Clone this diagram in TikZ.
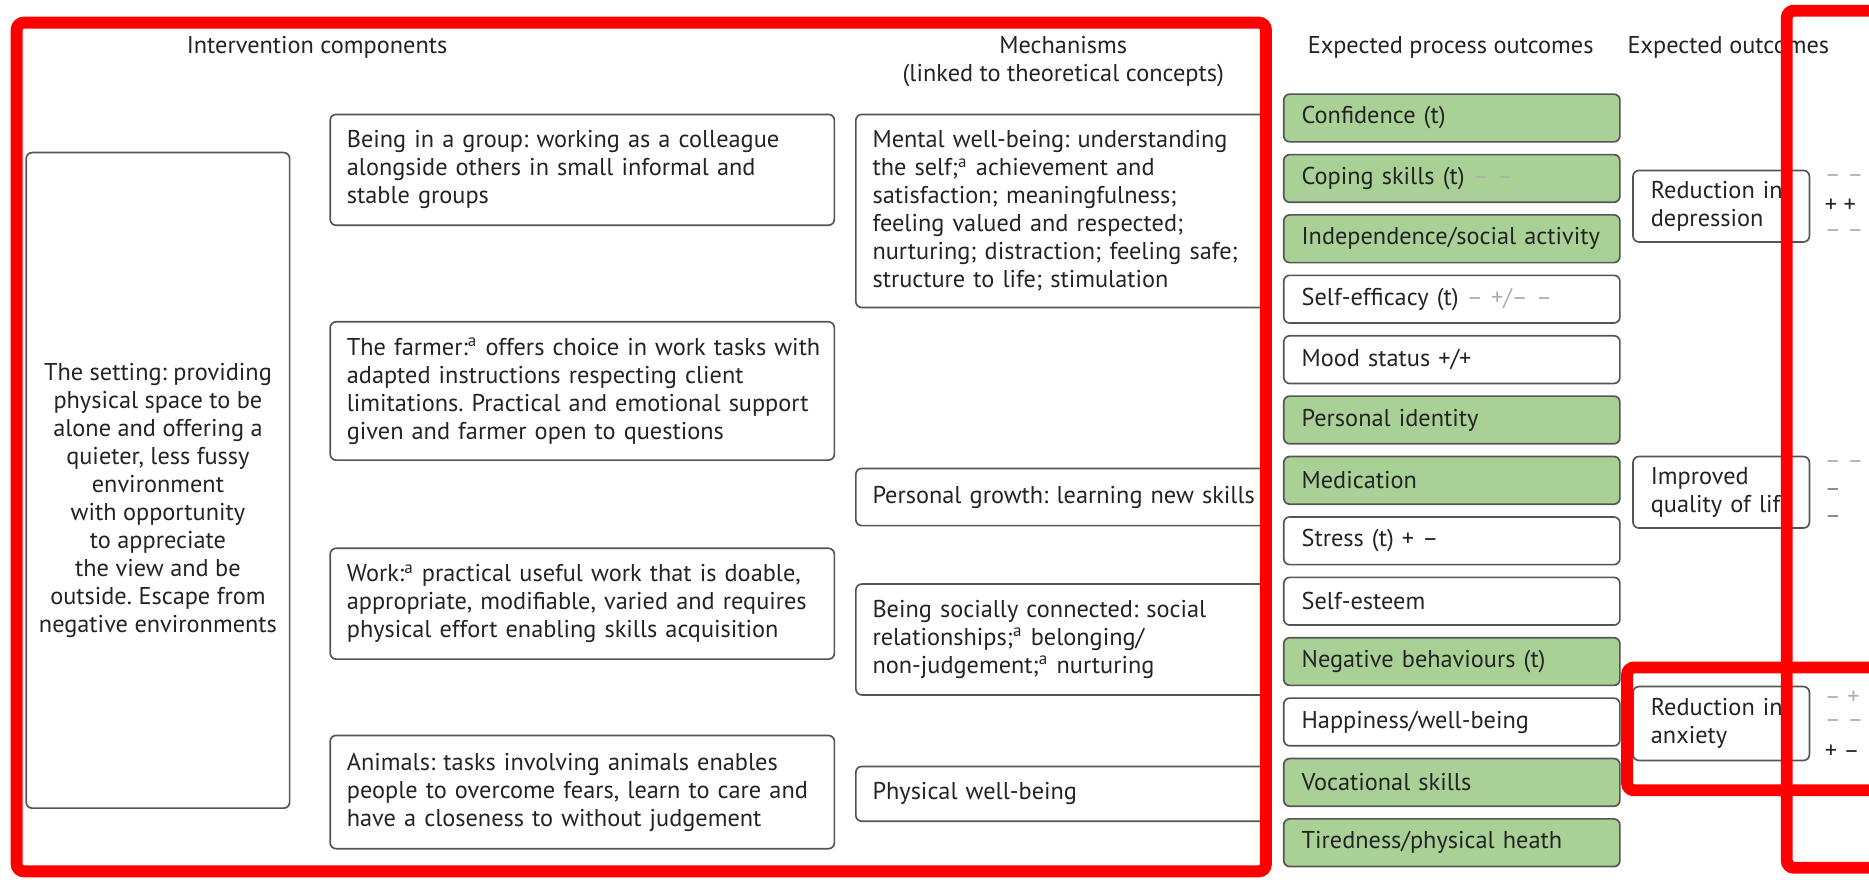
\documentclass[tikz,border=0pt]{standalone}
\usepackage{fontspec}
\setmainfont{PT Sans}
\frenchspacing
\definecolor{boxgreen}{RGB}{169,209,150}
\definecolor{boxline}{RGB}{85,85,85}
\definecolor{txt}{RGB}{35,35,35}
\definecolor{signgray}{RGB}{175,175,175}
\definecolor{signmid}{RGB}{130,130,130}
\definecolor{redframe}{RGB}{255,0,0}
\begin{document}
\begin{tikzpicture}[x=0.5pt,y=-0.5pt,
  every node/.style={font=\fontsize{10.2}{11.75}\selectfont, text=txt, outer sep=0pt},
  card/.style={draw=boxline, line width=0.7pt, rounded corners=2.5pt, anchor=west, align=left, inner ysep=1pt},
  icard/.style={card, inner xsep=7pt, text width=197.5pt},
  mcard/.style={card, inner xsep=7pt, text width=158pt},
  pcard/.style={card, inner xsep=7.5pt, text width=126pt, minimum height=20pt},
  pgreen/.style={pcard, fill=boxgreen},
  ocard/.style={card, inner xsep=7.5pt, text width=59pt},
  heading/.style={anchor=center, align=center},
  sign/.style={anchor=west, inner sep=0pt},
  redline/.style={draw=redframe, line width=5pt, rounded corners=3pt}
]
\useasboundingbox (0,0) rectangle (1568,738);

% headings
\node[heading] (h1) at (266,40) {Intervention components};
\node[heading] (h2) at (892,52) {Mechanisms\\(linked to theoretical concepts)};
\node[heading] (h3) at (1217,40) {Expected process outcomes};
\node[heading] (h4) at (1450,40) {Expected outcomes};

% setting box
\node[draw=boxline, line width=0.7pt, rounded corners=2.5pt, minimum width=110.5pt, minimum height=275pt, inner sep=0pt] (setting) at (132.5,403) {};
\node[align=center, inner sep=0pt] (settingtext) at (132.5,420) {The setting: providing\\physical space to be\\alone and offering a\\quieter, less fussy\\environment\\with opportunity\\to appreciate\\the view and be\\outside. Escape from\\negative environments};

% intervention components
\node[icard, minimum height=46.5pt] (group) at (277,142.5) {\mbox{Being in a group: working as a colleague}\\\mbox{alongside others in small informal and}\\stable groups};
\node[icard, minimum height=58pt] (farmer) at (277,328) {\mbox{The farmer:\textsuperscript{a} offers choice in work tasks with}\\\mbox{adapted instructions respecting client}\\\mbox{limitations. Practical and emotional support}\\\mbox{given and farmer open to questions}};
\node[icard, minimum height=46.5pt] (work) at (277,506.5) {\mbox{Work:\textsuperscript{a} practical useful work that is doable,}\\\mbox{appropriate, modifiable, varied and requires}\\\mbox{physical effort enabling skills acquisition}};
\node[icard, minimum height=47.5pt] (animals) at (277,664.5) {\mbox{Animals: tasks involving animals enables}\\\mbox{people to overcome fears, learn to care and}\\\mbox{have a closeness to without judgement}};

% mechanisms
\node[mcard, minimum height=81pt] (mental) at (718,177) {\mbox{Mental well-being: understanding}\\\mbox{the self;\textsuperscript{a} achievement and}\\\mbox{satisfaction; meaningfulness;}\\\mbox{feeling valued and respected;}\\\mbox{nurturing; distraction; feeling safe;}\\\mbox{structure to life; stimulation}};
\node[mcard, minimum height=24pt] (growth) at (718,417) {\mbox{Personal growth: learning new skills}};
\node[mcard, minimum height=46.5pt] (social) at (718,536.5) {\mbox{Being socially connected: social}\\\mbox{relationships;\textsuperscript{a} belonging/}\\\mbox{non-judgement;\textsuperscript{a} nurturing}};
\node[mcard, minimum height=23pt] (physical) at (718,666) {Physical well-being};

% process outcomes
\node[pgreen] (p1) at (1077,99) {Confidence (t)};
\node[pgreen] (p2) at (1077,149.7) {Coping skills (t) \textcolor{signgray}{– –}};
\node[pgreen] (p3) at (1077,200.3) {\mbox{Independence/social activity}};
\node[pcard] (p4) at (1077,251) {Self-efficacy (t) \textcolor{signgray}{– +/– –}};
\node[pcard] (p5) at (1077,301.7) {Mood status +/+};
\node[pgreen] (p6) at (1077,352.3) {Personal identity};
\node[pgreen] (p7) at (1077,403) {Medication};
\node[pcard] (p8) at (1077,453.7) {Stress (t) + –};
\node[pcard] (p9) at (1077,504.4) {Self-esteem};
\node[pgreen] (p10) at (1077,555) {Negative behaviours (t)};
\node[pcard] (p11) at (1077,605.7) {Happiness/well-being};
\node[pgreen] (p12) at (1077,656.4) {Vocational skills};
\node[pgreen] (p13) at (1077,707) {\mbox{Tiredness/physical heath}};

% expected outcomes
\node[ocard, minimum height=30pt] (dep) at (1370,173) {\mbox{Reduction in}\\depression};
\node[ocard, minimum height=30pt] (qol) at (1370,413) {Improved\\\mbox{quality of life}};
\node[ocard, minimum height=31pt] (anx) at (1370,607) {\mbox{Reduction in}\\anxiety};

% signs
\node[sign, text=signgray] (s1) at (1531,150) {– –};
\node[sign, text=txt] (s2) at (1531,173) {+ +};
\node[sign, text=signgray] (s3) at (1531,196) {– –};
\node[sign, text=signgray] (s4) at (1531,390) {– –};
\node[sign, text=signmid] (s5) at (1531,413) {–};
\node[sign, text=signmid] (s6) at (1531,436) {–};
\node[sign, text=signgray] (s7) at (1531,585) {– +};
\node[sign, text=signgray] (s8) at (1531,607) {– –};
\node[sign, text=txt] (s9) at (1531,631) {+ –};

% red frames
\draw[redline] (14,19) rectangle (1062,731);
\draw[redline] (1499,9) rectangle (1700,728);
\draw[redline] (1365,560) rectangle (1700,663);
\end{tikzpicture}
\end{document}
